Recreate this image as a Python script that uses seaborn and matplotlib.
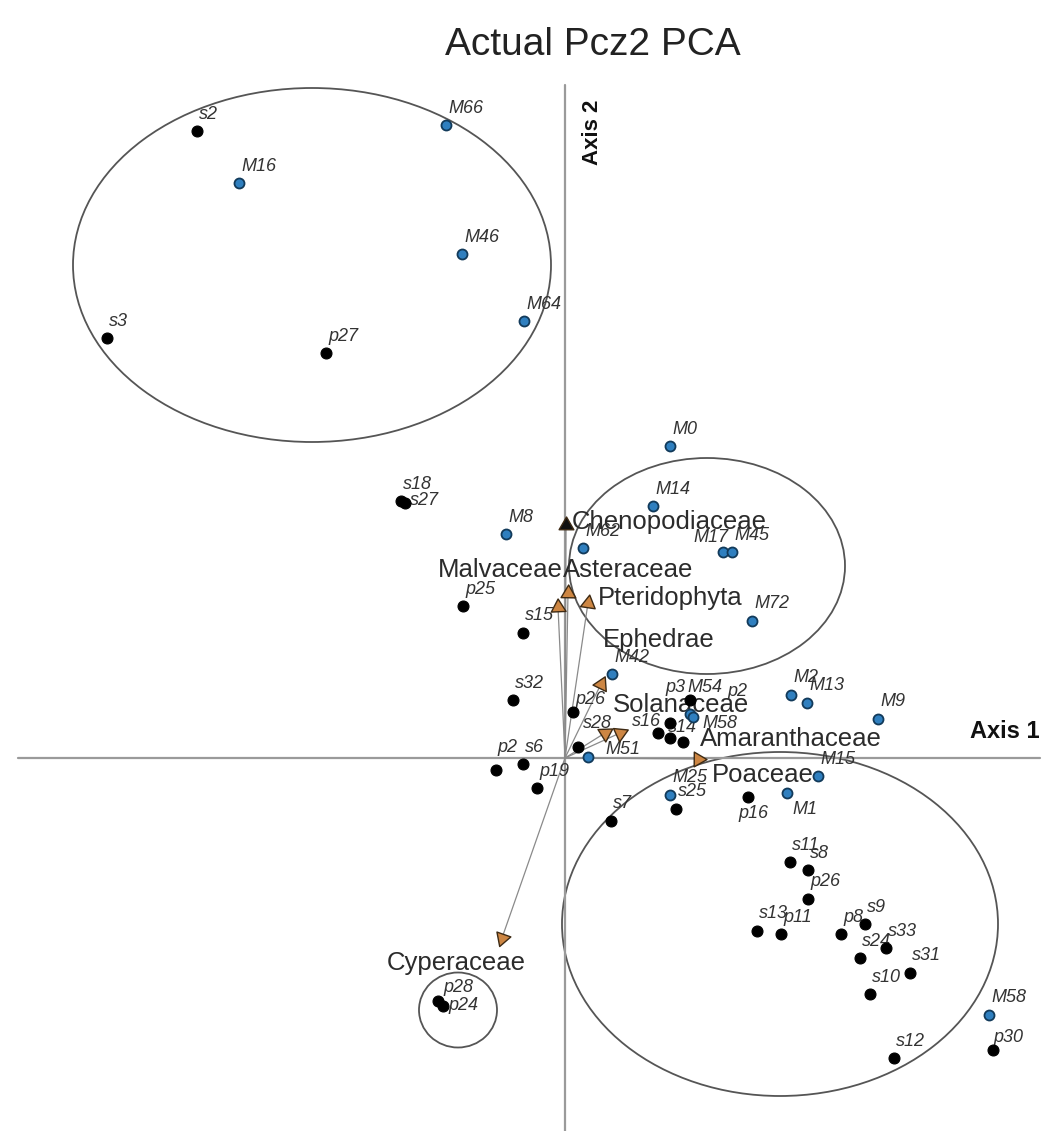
import numpy as np
import pandas as pd
import matplotlib
matplotlib.use("Agg")
import matplotlib.pyplot as plt
from matplotlib.patches import Ellipse
import seaborn as sns

# ---------------------------------------------------------------------------
# Sample scores on the first two PCA axes (one axis unit = 100 px on the page)
# ---------------------------------------------------------------------------
sample_names = ["s2", "s3", "p27", "s18", "s27", "p25", "s15", "s32", "p26", "s28",
                "p2", "s6", "p19", "s7", "s25", "p16", "p3", "p2", "s16", "s14",
                "", "s11", "s8", "p26", "s13", "p11", "p8", "s9", "s24", "s33",
                "s31", "s10", "s12", "p30", "p28", "p24"]
sample_ax1 = [-3.68, -4.58, -2.39, -1.64, -1.60, -1.02, -0.42, -0.52, 0.08, 0.13,
              -0.69, -0.42, -0.28, 0.46, 1.11, 1.83, 1.05, 1.25, 0.93, 1.05,
              1.18, 2.25, 2.43, 2.43, 1.92, 2.16, 2.76, 3.00, 2.95, 3.21,
              3.45, 3.05, 3.29, 4.28, -1.27, -1.22]
sample_ax2 = [6.27, 4.20, 4.05, 2.57, 2.55, 1.52, 1.25, 0.58, 0.46, 0.11,
              -0.12, -0.06, -0.30, -0.63, -0.51, -0.39, 0.35, 0.58, 0.25, 0.20,
              0.16, -1.04, -1.12, -1.41, -1.73, -1.76, -1.76, -1.66, -2.00, -1.90,
              -2.15, -2.36, -3.00, -2.92, -2.43, -2.48]

# Modern surface samples
modern_names = ["M66", "M16", "M46", "M64", "M0", "M14", "M8", "M62", "M17", "M45",
                "M72", "M42", "M2", "M13", "M9", "M54", "M58", "M51", "M25", "M15",
                "M1", "M58"]
modern_ax1 = [-1.19, -3.26, -1.03, -0.41, 1.05, 0.88, -0.59, 0.18, 1.58, 1.67,
              1.87, 0.47, 2.26, 2.42, 3.13, 1.25, 1.28, 0.23, 1.05, 2.53,
              2.22, 4.24]
modern_ax2 = [6.33, 5.75, 5.04, 4.37, 3.12, 2.52, 2.24, 2.10, 2.06, 2.06,
              1.37, 0.84, 0.63, 0.55, 0.39, 0.44, 0.41, 0.01, -0.37, -0.18,
              -0.35, -2.57]

# Pollen-taxon vectors (tips of the biplot arrows)
taxa = ["Chenopodiaceae", "Malvaceae", "Asteraceae", "Pteridophyta", "Ephedrae",
        "Solanaceae", "Poaceae", "Amaranthaceae", "Cyperaceae"]
taxa_ax1 = [0.01, -0.07, 0.03, 0.23, 0.36, 0.55, 0.40, 1.33, -0.63]
taxa_ax2 = [2.33, 1.51, 1.65, 1.55, 0.74, 0.25, 0.25, -0.01, -1.80]

# Group ellipses: centre, full width, full height
group_cx = [-2.53, 1.42, 2.15, -1.07]
group_cy = [4.93, 1.92, -1.66, -2.52]
group_w = [4.78, 2.76, 4.36, 0.78]
group_h = [3.54, 2.16, 3.44, 0.75]

# ---------------------------------------------------------------------------
samples = pd.DataFrame({"name": sample_names, "ax1": sample_ax1, "ax2": sample_ax2})
modern = pd.DataFrame({"name": modern_names, "ax1": modern_ax1, "ax2": modern_ax2})
vectors = pd.DataFrame({"taxon": taxa, "ax1": taxa_ax1, "ax2": taxa_ax2})

sns.set_theme(style="white")
plt.rcParams["font.family"] = ["Liberation Sans", "DejaVu Sans"]

fig = plt.figure(figsize=(10.48, 11.31), dpi=100)
ax = fig.add_axes([0, 0, 1, 1])
ax.set_xlim(-5.65, 4.83)
ax.set_ylim(-3.73, 7.58)
ax.axis("off")

# group ellipses
for cx, cy, w, h in zip(group_cx, group_cy, group_w, group_h):
    ax.add_patch(Ellipse((cx, cy), w, h, fill=False, edgecolor="#555555",
                         linewidth=1.3, zorder=1))

# axes through the origin
ax.plot([-5.47, 4.75], [0, 0], color="#9a9a9a", lw=1.6, zorder=1)
ax.plot([0, 0], [-3.73, 6.73], color="#9a9a9a", lw=1.6, zorder=1)
ax.text(4.75, 0.26, "Axis 1", ha="right", va="center", fontsize=17,
        fontweight="bold", color="#111111")
ax.text(0.27, 6.26, "Axis 2", ha="center", va="center", fontsize=16,
        fontweight="bold", rotation=90, color="#111111")

# taxon vectors
for _, r in vectors.iterrows():
    ax.plot([0, r.ax1], [0, r.ax2], color="#8a8a8a", lw=0.9, zorder=2)
    ang = np.degrees(np.arctan2(r.ax2, r.ax1)) - 90
    face = "#111111" if r.taxon == "Chenopodiaceae" else "#cd8643"
    ax.scatter([r.ax1], [r.ax2], marker=(3, 0, ang), s=150, color=face,
               edgecolor="#3d2a14", linewidth=1.0, zorder=4)

taxon_text = {
    "Chenopodiaceae": ((6, 3), "left"),
    "Malvaceae": ((5, 37), "right"),
    "Asteraceae": ((-5, 23), "left"),
    "Pteridophyta": ((10, 5), "left"),
    "Ephedrae": ((2, 44), "left"),
    "Solanaceae": ((-7, 28), "left"),
    "Poaceae": ((107, -42), "left"),
    "Amaranthaceae": ((2, 20), "left"),
    "Cyperaceae": ((-46, -25), "center"),
}
for _, r in vectors.iterrows():
    (dx, dy), ha = taxon_text[r.taxon]
    ax.annotate(r.taxon, (r.ax1, r.ax2), xytext=(dx, dy), textcoords="offset pixels",
                ha=ha, va="center", fontsize=18.5, color="#2b2b2b", zorder=3)

# sample points
sns.scatterplot(data=samples, x="ax1", y="ax2", color="#000000", edgecolor="#000000",
                s=62, linewidth=0.8, legend=False, ax=ax, zorder=5)
sns.scatterplot(data=modern, x="ax1", y="ax2", color="#2f7fbf", edgecolor="#123a5a",
                s=52, linewidth=1.3, legend=False, ax=ax, zorder=5)
ax.set_xlabel("")
ax.set_ylabel("")

# point labels: default sits just above and right of the point
sample_nudge = {4: (5, 3), 8: (2, 12), 9: (5, 24), 10: (1, 22), 15: (-10, -16),
                16: (-5, 35), 17: (37, 8), 18: (-26, 11), 19: (-2, 10),
                33: (0, 13), 34: (5, 13), 35: (5, 0)}
modern_nudge = {8: (-30, 15), 15: (-3, 26), 16: (9, -6), 17: (17, 7), 20: (5, -17)}

def label_points(df, nudge):
    for i, r in df.iterrows():
        if not r["name"]:
            continue
        dx, dy = nudge.get(i, (2, 17))
        ax.annotate(r["name"], (r.ax1, r.ax2), xytext=(dx, dy),
                    textcoords="offset pixels", ha="left", va="center",
                    fontsize=13, fontstyle="italic", color="#333333", zorder=3)

label_points(samples, sample_nudge)
label_points(modern, modern_nudge)

ax.text(0.28, 7.13, "Actual Pcz2 PCA", ha="center", va="center", fontsize=28,
        color="#222222")

fig.savefig("out.png", dpi=100, facecolor="white")
